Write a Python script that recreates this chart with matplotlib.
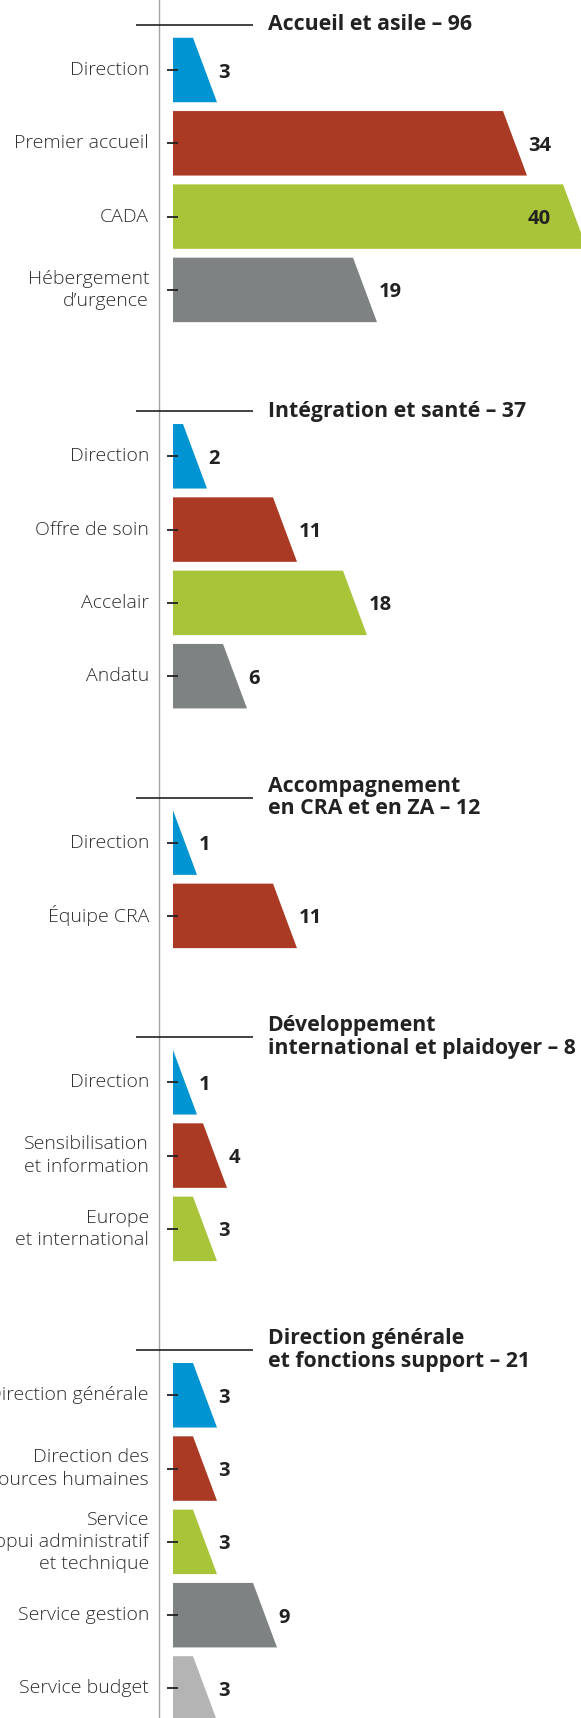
import numpy as np
import matplotlib.pyplot as plt
from matplotlib.patches import Polygon

plt.rcParams['font.family'] = ['Open Sans', 'DejaVu Sans']

# group titles (total is computed from the values)
titles = ["Accueil et asile", "Intégration et santé", "Accompagnement\nen CRA et en ZA",
          "Développement\ninternational et plaidoyer", "Direction générale\net fonctions support"]

accueil_labels = ["Direction", "Premier accueil", "CADA", "Hébergement\nd’urgence"]
accueil_values = [3, 34, 40, 19]
integration_labels = ["Direction", "Offre de soin", "Accelair", "Andatu"]
integration_values = [2, 11, 18, 6]
cra_labels = ["Direction", "Équipe CRA"]
cra_values = [1, 11]
dev_labels = ["Direction", "Sensibilisation\net information", "Europe\net international"]
dev_values = [1, 4, 3]
dg_labels = ["Direction générale", "Direction des\nressources humaines",
             "Service\nappui administratif\net technique", "Service gestion", "Service budget"]
dg_values = [3, 3, 3, 9, 3]

group_labels = [accueil_labels, integration_labels, cra_labels, dev_labels, dg_labels]
group_values = [accueil_values, integration_values, cra_values, dev_values, dg_values]

colors = ["#0094d2", "#ab3a24", "#a8c53a", "#7f8282", "#b4b4b4"]

W, H = 581, 1718
slot = 73.3      # px between two bars
xscale = 10.0    # px per unit
x0px = 173       # where bars start
first_px = 70    # centre of first bar

fig = plt.figure(figsize=(W / 100, H / 100), dpi=100)
ax = fig.add_axes([0, 0, 1, 1])
ax.set_xlim(-x0px / xscale, (W - x0px) / xscale)
ax.set_ylim((H - first_px) / slot, -first_px / slot)
ax.axis("off")

ax.axvline(-1.4, color="#a3a3a3", lw=1.0, zorder=1)

bar_h = 0.88
group_gap = 2.27   # distance between last bar of a group and first bar of next
xmax = ax.get_xlim()[1]

y = 0.0
for title, labels, values in zip(titles, group_labels, group_values):
    head_y = y - 0.615
    ax.hlines(head_y, -3.7, 8.0, color="#222222", lw=1.2)
    ax.text(9.45, head_y, f"{title} – {sum(values)}", ha="left", va="center",
            fontsize=15.3, fontweight="bold", color="#222222", linespacing=1.12)
    for i, (lab, v) in enumerate(zip(labels, values)):
        c = y + i
        top, bot = c - bar_h / 2, c + bar_h / 2
        poly = Polygon([(0, top), (v - 1, top), (v + 1.4, bot), (0, bot)],
                       closed=True, facecolor=colors[i], edgecolor="none", zorder=2)
        ax.add_patch(poly)
        ax.hlines(c, -0.63, 0.48, color="#222222", lw=1.3, zorder=3)
        ax.text(-2.4, c, lab, ha="right", va="center", fontsize=14,
                fontweight="light", color="#2e2e2e", linespacing=1.3)
        if v + 1.55 + 2.8 > xmax:
            ax.text(v - 2.2, c, str(v), ha="right", va="center_baseline", fontsize=14.5,
                    fontweight="bold", color="#222222", zorder=4)
        else:
            ax.text(v + 1.55, c, str(v), ha="left", va="center_baseline", fontsize=14.5,
                    fontweight="bold", color="#222222", zorder=4)
    y += len(values) - 1 + group_gap

fig.savefig("out.png", dpi=100)
